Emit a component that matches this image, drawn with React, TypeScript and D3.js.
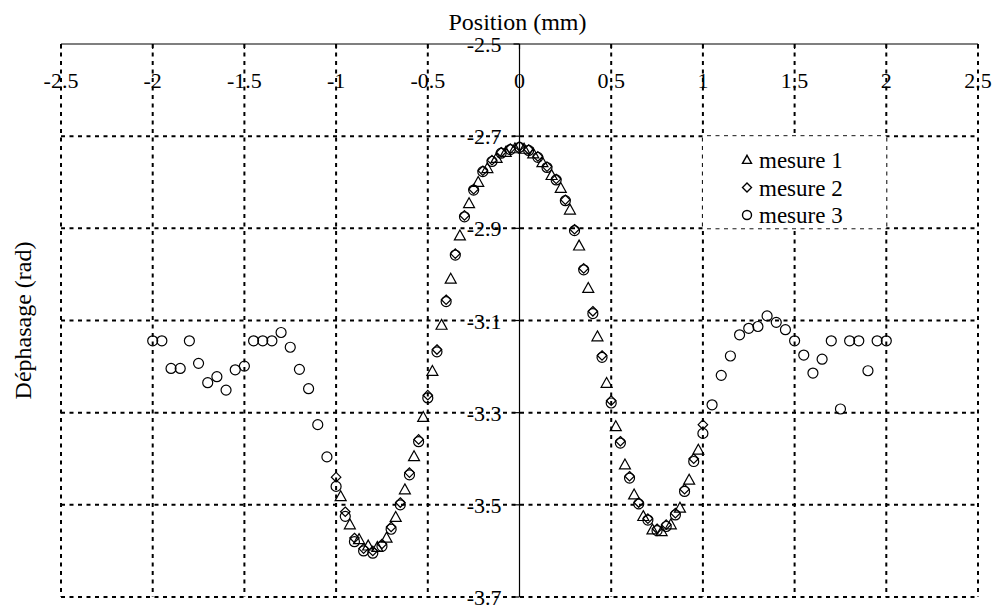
import React from "react";
import * as d3 from "d3";

// ---- data ----
const xTicks = [-2.5, -2, -1.5, -1, -0.5, 0, 0.5, 1, 1.5, 2, 2.5];
const xTickLabels = ["-2.5", "-2", "-1.5", "-1", "-0.5", "0", "0.5", "1", "1.5", "2", "2.5"];
const yTicks = [-2.5, -2.7, -2.9, -3.1, -3.3, -3.5, -3.7];
const yTickLabels = ["-2.5", "-2.7", "-2.9", "-3.1", "-3.3", "-3.5", "-3.7"];

// mesure 1 (triangles)
const m1X = [
  -0.975, -0.925, -0.875, -0.825, -0.775, -0.725, -0.675, -0.625, -0.575, -0.525,
  -0.475, -0.425, -0.375, -0.325, -0.275, -0.225, -0.175, -0.125, -0.075, -0.025,
  0.025, 0.075, 0.125, 0.175, 0.225, 0.275, 0.325, 0.375, 0.425, 0.475,
  0.525, 0.575, 0.625, 0.675, 0.725, 0.775, 0.825, 0.875, 0.925, 0.975,
];
const m1Y = [
  -3.482, -3.543, -3.575, -3.589, -3.592, -3.572, -3.527, -3.467, -3.395, -3.31,
  -3.21, -3.11, -3.01, -2.916, -2.846, -2.8, -2.77, -2.748, -2.735, -2.727,
  -2.728, -2.738, -2.757, -2.785, -2.813, -2.86, -2.938, -3.03, -3.135, -3.236,
  -3.33, -3.413, -3.478, -3.525, -3.554, -3.558, -3.543, -3.507, -3.446, -3.381,
];

// mesure 2 (diamonds)
const m2X = [
  -1.0, -0.95, -0.9, -0.85, -0.8, -0.75, -0.7, -0.65, -0.6, -0.55,
  -0.5, -0.45, -0.4, -0.35, -0.3, -0.25, -0.2, -0.15, -0.1, -0.05,
  0.0, 0.05, 0.1, 0.15, 0.2, 0.25, 0.3, 0.35, 0.4, 0.45,
  0.5, 0.55, 0.6, 0.65, 0.7, 0.75, 0.8, 0.85, 0.9, 0.95, 1.0,
];
const m2Y = [
  -3.44, -3.515, -3.572, -3.595, -3.6, -3.585, -3.548, -3.495, -3.43, -3.358,
  -3.262, -3.163, -3.055, -2.955, -2.872, -2.815, -2.775, -2.752, -2.735, -2.727,
  -2.722, -2.729, -2.744, -2.766, -2.793, -2.838, -2.902, -2.987, -3.08, -3.176,
  -3.274, -3.362, -3.438, -3.495, -3.53, -3.552, -3.543, -3.518, -3.466, -3.4, -3.326,
];

// mesure 3 (circles)
const m3X = [
  -2.0, -1.95, -1.9, -1.85, -1.8, -1.75, -1.7, -1.65, -1.6, -1.55,
  -1.5, -1.45, -1.4, -1.35, -1.3, -1.25, -1.2, -1.15, -1.1, -1.05,
  -1.0, -0.95, -0.9, -0.85, -0.8, -0.75, -0.7, -0.65, -0.6, -0.55,
  -0.5, -0.45, -0.4, -0.35, -0.3, -0.25, -0.2, -0.15, -0.1, -0.05,
  0.0, 0.05, 0.1, 0.15, 0.2, 0.25, 0.3, 0.35, 0.4, 0.45,
  0.5, 0.55, 0.6, 0.65, 0.7, 0.75, 0.8, 0.85, 0.9, 0.95,
  1.0, 1.05, 1.1, 1.15, 1.2, 1.25, 1.3, 1.35, 1.4, 1.45,
  1.5, 1.55, 1.6, 1.65, 1.7, 1.75, 1.8, 1.85, 1.9, 1.95, 2.0,
];
const m3Y = [
  -3.144, -3.144, -3.204, -3.204, -3.144, -3.193, -3.235, -3.222, -3.251, -3.207,
  -3.199, -3.144, -3.144, -3.144, -3.126, -3.158, -3.206, -3.248, -3.326, -3.396,
  -3.46, -3.525, -3.58, -3.6, -3.605, -3.59, -3.553, -3.5, -3.435, -3.363,
  -3.268, -3.168, -3.059, -2.958, -2.875, -2.817, -2.777, -2.755, -2.737, -2.729,
  -2.724, -2.731, -2.746, -2.768, -2.795, -2.84, -2.905, -2.99, -3.085, -3.18,
  -3.279, -3.366, -3.442, -3.498, -3.533, -3.556, -3.547, -3.522, -3.471, -3.406,
  -3.345, -3.283, -3.219, -3.177, -3.131, -3.117, -3.113, -3.09, -3.104, -3.12,
  -3.144, -3.175, -3.214, -3.184, -3.144, -3.292, -3.144, -3.144, -3.209, -3.144, -3.144,
];

const seriesNames = ["mesure 1", "mesure 2", "mesure 3"];
const seriesShapes = ["triangle", "diamond", "circle"];

const FONT = "Liberation Serif";

function markerPath(shape: string, cx: number, cy: number, s: number): string {
  if (shape === "triangle") {
    const h = s * 0.9;
    return `M${cx},${cy - h * 0.58}L${cx + s / 2},${cy + h * 0.42}L${cx - s / 2},${cy + h * 0.42}Z`;
  }
  if (shape === "diamond") {
    const r = s / 2;
    return `M${cx},${cy - r}L${cx + r},${cy}L${cx},${cy + r}L${cx - r},${cy}Z`;
  }
  const r = s / 2;
  return `M${cx + r},${cy}A${r},${r} 0 1,1 ${cx - r},${cy}A${r},${r} 0 1,1 ${cx + r},${cy}Z`;
}

export default function App() {
  const x = d3.scaleLinear().domain([-2.5, 2.5]).range([61, 978]);
  const y = d3.scaleLinear().domain([-2.5, -3.7]).range([44, 597]);

  const series = [
    { xs: m1X, ys: m1Y, shape: seriesShapes[0], size: 11 },
    { xs: m2X, ys: m2Y, shape: seriesShapes[1], size: 9.5 },
    { xs: m3X, ys: m3Y, shape: seriesShapes[2], size: 10 },
  ];

  const grid = { stroke: "#000", strokeWidth: 2, strokeDasharray: "4,4.5", fill: "none" };

  const lx0 = x(1), lx1 = x(2), ly0 = y(-2.7), ly1 = y(-2.9);

  return (
    <svg width={996} height={608} style={{ position: "absolute", left: 0, top: 0, background: "#fff", fontFamily: "'Liberation Serif', serif" }}>
      <rect x={0} y={0} width={996} height={608} fill="#fff" />
      {/* vertical grid lines */}
      {xTicks.filter((t) => t !== 0).map((t) => (
        <line key={"vx" + t} x1={x(t)} x2={x(t)} y1={y(-2.5)} y2={y(-3.7)} {...grid} />
      ))}
      {/* horizontal grid lines */}
      {yTicks.filter((t) => t !== -2.5).map((t) => (
        <line key={"hy" + t} x1={x(-2.5)} x2={x(2.5)} y1={y(t)} y2={y(t)} {...grid} />
      ))}
      {/* axes */}
      <line x1={x(-2.5)} x2={x(2.5)} y1={y(-2.5)} y2={y(-2.5)} stroke="#000" strokeWidth={1.2} />
      <line x1={x(0)} x2={x(0)} y1={y(-2.5)} y2={y(-3.7)} stroke="#000" strokeWidth={1.2} />
      {yTicks.map((t) => (
        <line key={"yt" + t} x1={x(0) - 6} x2={x(0)} y1={y(t)} y2={y(t)} stroke="#000" strokeWidth={1.2} />
      ))}
      {xTicks.map((t) => (
        <line key={"xt" + t} x1={x(t)} x2={x(t)} y1={y(-2.5)} y2={y(-2.5) + 5} stroke="#000" strokeWidth={1.2} />
      ))}
      {/* tick labels */}
      {xTicks.map((t, i) => (
        <text key={"xl" + t} x={x(t)} y={88} textAnchor="middle" fontFamily={FONT} fontSize={22} fill="#000">
          {xTickLabels[i]}
        </text>
      ))}
      {yTicks.map((t, i) => (
        <text key={"yl" + t} x={x(0) - 18} y={y(t) + 8} textAnchor="end" fontFamily={FONT} fontSize={22} fill="#000">
          {yTickLabels[i]}
        </text>
      ))}
      {/* axis titles */}
      <text x={x(0) - 2} y={30} textAnchor="middle" fontFamily={FONT} fontSize={24} fill="#000">
        Position (mm)
      </text>
      <text
        transform={`translate(31,${(y(-2.5) + y(-3.7)) / 2}) rotate(-90)`}
        textAnchor="middle"
        fontFamily={FONT}
        fontSize={24}
        fill="#000"
      >
        Déphasage (rad)
      </text>
      {/* data */}
      {series.map((s, si) => (
        <g key={"s" + si}>
          {s.xs.map((xv, i) => (
            <path
              key={i}
              d={markerPath(s.shape, x(xv), y(s.ys[i]), s.size)}
              fill="none"
              stroke="#000"
              strokeWidth={1.2}
            />
          ))}
        </g>
      ))}
      {/* legend */}
      <rect x={lx0} y={ly0} width={lx1 - lx0} height={ly1 - ly0} fill="#fff" />
      {seriesNames.map((n, i) => {
        const cy = 160 + i * 27.5;
        return (
          <g key={"lg" + i}>
            <path d={markerPath(seriesShapes[i], 747, cy, 9)} fill="none" stroke="#000" strokeWidth={1.4} />
            <text x={759} y={cy + 8} fontFamily={FONT} fontSize={23} fill="#000">
              {n}
            </text>
          </g>
        );
      })}
    </svg>
  );
}
